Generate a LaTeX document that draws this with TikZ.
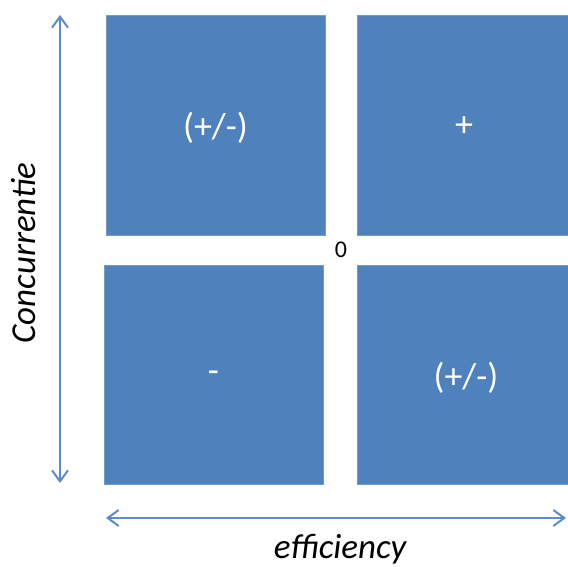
\documentclass[tikz,border=0pt]{standalone}
\usepackage{fontspec}
\setmainfont{Carlito}
\usetikzlibrary{arrows.meta}
\definecolor{tileblue}{HTML}{4F81BD}
\definecolor{axisblue}{HTML}{5B8CC8}
\tikzset{
  tile/.style={fill=tileblue, draw=tileblue!80!white, line width=0.8pt, inner sep=0pt},
  tilelabel/.style={text=white, font=\fontsize{36}{40}\selectfont},
  axis/.style={draw=axisblue, line width=2pt, {Straight Barb[length=11pt,width=16pt]}-{Straight Barb[length=11pt,width=16pt]}},
  axislabel/.style={font=\fontsize{35}{40}\selectfont\itshape, text=black}
}
\begin{document}
\begin{tikzpicture}[x=1pt,y=-1pt]
\useasboundingbox (0,0) rectangle (568,567);
% four quadrants
\fill[tile] (106,15) rectangle (325,235);
\fill[tile] (357,15) rectangle (568,235);
\fill[tile] (104,265) rectangle (323,484);
\fill[tile] (357,265) rectangle (568,484);
\node[tilelabel] (tl) at (215.5,128) {(+/-)};
\node[tilelabel] (tr) at (464,127) {+};
\node[tilelabel] (bl) at (213.5,377) {-};
\node[tilelabel] (br) at (466,378) {(+/-)};
\node[font=\fontsize{24}{28}\selectfont] (origin) at (341,250) {0};
% axes
\coordinate (ytop) at (60,15);
\coordinate (ybot) at (60,483);
\coordinate (xleft) at (106,518);
\coordinate (xright) at (566,518);
\draw[axis] (ytop) -- (ybot);
\draw[axis] (xleft) -- (xright);
\node[axislabel, rotate=90] (ylab) at (24,253) {Concurrentie};
\node[axislabel] (xlab) at (340,549) {efficiency};
\end{tikzpicture}
\end{document}
